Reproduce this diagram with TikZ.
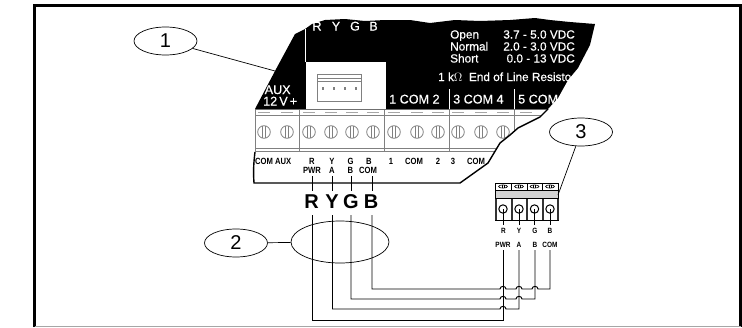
\documentclass[tikz,border=0pt]{standalone}
\usepackage{fontspec}
\setmainfont{Liberation Sans}
\newfontfamily\condf{Liberation Sans}[FakeStretch=0.85]
\newfontfamily\heavyf{Liberation Sans}[FakeBold=0.5]
\usetikzlibrary{shapes.geometric}
\definecolor{gline}{HTML}{808080}
\tikzset{
  x=1pt,y=-1pt,
  callout/.style={draw,ellipse,line width=0.7pt,inner sep=0pt,minimum width=63pt,minimum height=28pt,font=\fontsize{20}{20}\selectfont},
  leader/.style={line width=0.7pt},
  wtxt/.style={text=white,inner sep=0pt,font=\heavyf\fontsize{11.8}{12}\selectfont,anchor=base west},
  ctxt/.style={wtxt,font=\heavyf\fontsize{12.6}{13}\selectfont},
  tlab/.style={inner sep=0pt,font=\condf\bfseries\fontsize{9}{9}\selectfont,anchor=base},
  biglab/.style={inner sep=0pt,font=\bfseries\fontsize{20}{20}\selectfont,anchor=base},
  dlab/.style={inner sep=0pt,outer sep=2pt,font=\condf\bfseries\fontsize{7.6}{8}\selectfont,anchor=base},
  wire/.style={line width=0.95pt},
  tl/.style={draw=gline,line width=0.6pt},
}
\begin{document}
\begin{tikzpicture}
\useasboundingbox (0,0) rectangle (742,327);
% frame
\draw[line width=2.2pt] (34.5,327) -- (34.5,5.5) -- (740.5,5.5) -- (740.5,327);
\draw[gline!70,line width=1pt] (34.5,326.5) -- (740.5,326.5);
% terminal strip, clipped by the tear
\begin{scope}
\clip (253,105) -- (600,105) -- (548,109) -- (540,117) -- (518,128) -- (510,135) -- (500,143) -- (488,163) -- (460,183) -- (253,183) -- cycle;
\draw[tl] (255,109) -- (560,109);
\draw[tl] (255,115) -- (560,115);
\draw[tl] (255,148) -- (560,148);
\draw[tl] (255,151) -- (560,151);
\foreach \x in {299,384,449,514} \draw[tl] (\x,109) -- (\x,152);
\draw[tl] (255,109) -- (255,152);
\foreach \x in {264,287,309,331,352,373,394,417,438,458,481,503,526}{
  \draw[gline,line width=0.8pt] (\x,132) circle[radius=6.3];
  \draw[gline,line width=0.8pt] (\x-1.7,126) -- (\x-1.7,138) (\x+1.7,126) -- (\x+1.7,138);
  \draw[gline!70,line width=0.8pt] (\x-6,112.3) -- (\x+6,112.3);
}
\end{scope}
% black tear panel
\fill (255,109) -- (275,71) -- (295,34) -- (305,29) -- (312,24) -- (325,20) -- (345,19) -- (365,21) -- (385,20) -- (410,20) -- (430,23) -- (455,20) -- (480,21) -- (510,20) -- (535,18) -- (550,20) -- (570,22) -- (595,24) -- (590,45) -- (578,68) -- (568,80) -- (558,98) -- (548,109) -- cycle;
% tear line
\draw[line width=1.4pt] (548,109) -- (540,117) -- (518,128) -- (510,135) -- (500,143) -- (488,163) -- (460,183) -- (254,183) .. controls (253,170) and (254,160) .. (255,152);
% white connector panel
\fill[white] (305.5,62) rectangle (386,109);
\draw[white,line width=0.8pt] (305.5,29) -- (305.5,62);
\foreach \x in {449,514} \draw[white,line width=0.6pt] (\x,89) -- (\x,109);
\draw[gline,line width=0.7pt] (317,74) rectangle (361,101);
\draw[gline,line width=0.7pt] (317,78) -- (361,78) (317,81) -- (361,81);
\foreach \x in {323,334,345,356} \fill[gline] (\x-1,87) rectangle (\x+1,89.5);
% white text on panel
\node[ctxt,anchor=base] (tR) at (317,30.5) {R};
\node[ctxt,anchor=base] (tY) at (336,30.5) {Y};
\node[ctxt,anchor=base] (tG) at (355,30.5) {G};
\node[ctxt,anchor=base] (tB) at (373.5,30.5) {B};
\node[wtxt] (tOpen) at (450,38.5) {Open};
\node[wtxt] (tNormal) at (450,50.5) {Normal};
\node[wtxt] (tShort) at (450,62.5) {Short};
\node[wtxt,anchor=base east] (vOpen) at (575,38.5) {3.7 - 5.0 VDC};
\node[wtxt,anchor=base east] (vNormal) at (575,50.5) {2.0 - 3.0 VDC};
\node[wtxt,anchor=base east] (vShort) at (575,62.5) {0.0 - 13 VDC};
\node[wtxt] (tEol) at (438,81) {1 k$\Omega$\ \ End of Line Resisto};
\node[ctxt] (t1c2) at (389,103.5) {1 COM 2};
\node[ctxt] (t3c4) at (453,103.5) {3 COM 4};
\node[ctxt] (t5c) at (518,103.5) {5 COM};
\node[ctxt] (tAux) at (264.5,94) {AUX};
\node[ctxt] (t12v) at (263,105.5) {12\,V\,+};
% strip labels
\node[tlab,anchor=base west] (lCA) at (255,164.5) {COM AUX};
\node[tlab] (lR) at (312,164.5) {R};
\node[tlab] (lY) at (332,164.5) {Y};
\node[tlab] (lG) at (350.5,164.5) {G};
\node[tlab] (lB) at (369,164.5) {B};
\node[tlab] (l1) at (391,164.5) {1};
\node[tlab] (lC1) at (414,164.5) {COM};
\node[tlab] (l2) at (438,164.5) {2};
\node[tlab] (l3) at (453,164.5) {3};
\node[tlab,anchor=base west] (lC2) at (467,164.5) {COM};
\node[tlab] (lPWR) at (312,173.5) {PWR};
\node[tlab] (lA) at (332,173.5) {A};
\node[tlab] (lB2) at (350.5,173.5) {B};
\node[tlab] (lCOM) at (368,173.5) {COM};
% big wire letters
\node[biglab] (bR) at (311.5,208.5) {R};
\node[biglab] (bY) at (332,208.5) {Y};
\node[biglab] (bG) at (351,208.5) {G};
\node[biglab] (bB) at (371,208.5) {B};
% named wire points
\coordinate (uR) at (312,176); \coordinate (uRb) at (312,191);
\coordinate (uY) at (332.5,176); \coordinate (uYb) at (332.5,191);
\coordinate (uG) at (351,176); \coordinate (uGb) at (351,191);
\coordinate (uB) at (372,176); \coordinate (uBb) at (372,191);
\draw[wire] (uR) -- (uRb) (uY) -- (uYb) (uG) -- (uGb) (uB) -- (uBb);
% device
\draw[line width=1pt,fill=white] (495,183) rectangle (558,220);
\fill[gline!35] (495.5,190) rectangle (557.5,198);
\draw[line width=0.7pt] (495,190) -- (558,190);
\draw[line width=0.7pt] (495,198.5) -- (558,198.5);
\foreach \x in {495.5,511.5,527,542.5,557.5} \draw[line width=2pt,black!80] (\x,198.5) -- (\x,220);
\foreach \x in {511,527,542.5} \draw[line width=0.6pt] (\x,183) -- (\x,190);
\foreach \x in {503,519,534.5,550}{
  \draw[line width=0.6pt] (\x,186.5) ellipse[x radius=4.5,y radius=1.6];
  \draw[line width=0.6pt] (\x-1.2,185) -- (\x-1.2,188) (\x+1.2,185) -- (\x+1.2,188);
  \draw[line width=1pt] (\x,209) circle[radius=4.2];
  \draw[line width=0.9pt] (\x,209) -- (\x,225);
}
% device labels
\node[dlab] (dR) at (503.5,233) {R};
\node[dlab] (dY) at (519,233) {Y};
\node[dlab] (dG) at (535,233) {G};
\node[dlab] (dB) at (550,233) {B};
\node[dlab] (dPWR) at (503,247) {PWR};
\node[dlab] (dA) at (519,247) {A};
\node[dlab] (dBB) at (535,247) {B};
\node[dlab] (dCOM) at (550,247) {COM};
% wires
\coordinate (lR0) at (312,215); \coordinate (lY0) at (332.5,215); \coordinate (lG0) at (351,215); \coordinate (lB0) at (372,215);
\coordinate (tPWR) at (503,250); \coordinate (tA) at (519,250); \coordinate (tBB) at (535,250); \coordinate (tCOM) at (550,250);
\draw[wire] (lB0) |- (500,289) .. controls (500,285.5) and (506,285.5) .. (506,289) -- (516,289) .. controls (516,285.5) and (522,285.5) .. (522,289) -- (532,289) .. controls (532,285.5) and (538,285.5) .. (538,289) -- (550,289) -- (tCOM);
\draw[wire] (lG0) |- (500,299) .. controls (500,295.5) and (506,295.5) .. (506,299) -- (516,299) .. controls (516,295.5) and (522,295.5) .. (522,299) -- (535,299) -- (tBB);
\draw[wire] (lY0) |- (500,309) .. controls (500,305.5) and (506,305.5) .. (506,309) -- (519,309) -- (tA);
\draw[wire] (lR0) |- (503,320) -- (tPWR);
% callouts
\node[callout] (c1) at (165.5,41) {1};
\node[callout] (c2) at (236,243) {2};
\node[callout] (c3) at (581,132) {3};
\node[draw,ellipse,line width=0.7pt,inner sep=0pt,minimum width=98pt,minimum height=42pt] (wb) at (340,242) {};
\coordinate (p1) at (275,71);
\coordinate (p3) at (558,195);
\draw[leader] (c1) -- (p1);
\draw[leader] (c2) -- (wb);
\draw[leader] (c3) -- (p3);
\end{tikzpicture}
\end{document}
